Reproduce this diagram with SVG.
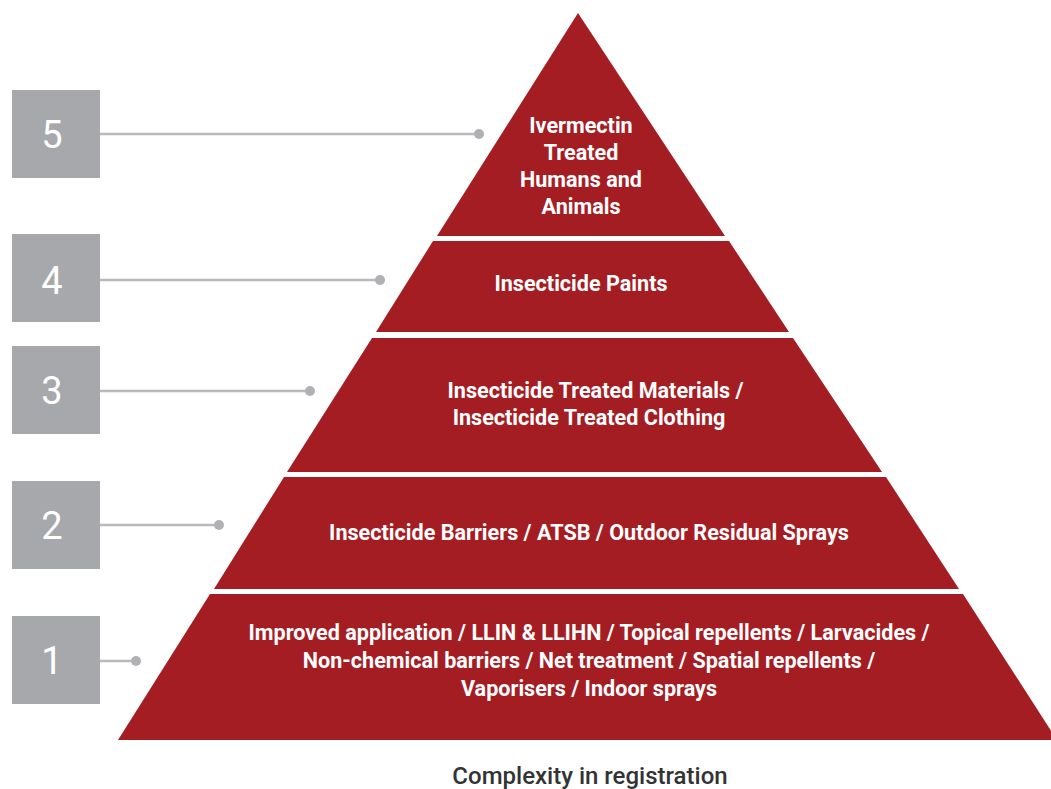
<svg xmlns="http://www.w3.org/2000/svg" width="1051" height="789" viewBox="0 0 1051 789">
<style>
.tier{fill:#a41d23}
.lbl{font-family:Roboto,"Liberation Sans",sans-serif;font-weight:700;font-size:21.6px;fill:#ffffff;text-anchor:middle}
.box{fill:#a7a8ab}
.num{font-family:Roboto,"Liberation Sans",sans-serif;font-weight:400;font-size:38px;fill:#ffffff;text-anchor:middle}
.con{stroke:#b8b9bc;stroke-width:2.5;fill:none}
.dot{fill:#b0b1b4}
.cap{font-family:Roboto,"Liberation Sans",sans-serif;font-weight:500;font-size:24px;fill:#333333;text-anchor:middle}
</style>
<rect width="1051" height="789" fill="#ffffff"/>
<g id="connectors">
<line class="con" x1="82" y1="134" x2="479" y2="134"/><circle class="dot" cx="479" cy="134" r="5"/>
<line class="con" x1="82" y1="280" x2="380" y2="280"/><circle class="dot" cx="380" cy="280" r="5"/>
<line class="con" x1="82" y1="391" x2="310" y2="391"/><circle class="dot" cx="310" cy="391" r="5"/>
<line class="con" x1="82" y1="525" x2="219" y2="525"/><circle class="dot" cx="219" cy="525" r="5"/>
<line class="con" x1="82" y1="661" x2="136" y2="661"/><circle class="dot" cx="136" cy="661" r="5"/>
</g>
<g id="box5"><rect class="box" x="12" y="90" width="88" height="88"/><text class="num" x="52" y="148">5</text></g>
<g id="box4"><rect class="box" x="12" y="234" width="88" height="88"/><text class="num" x="52" y="294">4</text></g>
<g id="box3"><rect class="box" x="12" y="346" width="88" height="88"/><text class="num" x="52" y="404">3</text></g>
<g id="box2"><rect class="box" x="12" y="481" width="88" height="88"/><text class="num" x="52" y="539">2</text></g>
<g id="box1"><rect class="box" x="12" y="616" width="88" height="88"/><text class="num" x="52" y="674">1</text></g>
<g id="tier5">
<polygon class="tier" points="578,13 437,236 725,236"/>
<text class="lbl" x="581" y="133">Ivermectin</text>
<text class="lbl" x="581" y="160">Treated</text>
<text class="lbl" x="581" y="187">Humans and</text>
<text class="lbl" x="581" y="214">Animals</text>
</g>
<g id="tier4">
<polygon class="tier" points="433,241 729,241 789,332 376,332"/>
<text class="lbl" x="581" y="291">Insecticide Paints</text>
</g>
<g id="tier3">
<polygon class="tier" points="372,338 793,338 882,472 287,472"/>
<text class="lbl" x="595.5" y="398">Insecticide Treated Materials /</text>
<text class="lbl" x="589" y="425">Insecticide Treated Clothing</text>
</g>
<g id="tier2">
<polygon class="tier" points="284,477 886,477 959,589 214,589"/>
<text class="lbl" x="589" y="540">Insecticide Barriers / ATSB / Outdoor Residual Sprays</text>
</g>
<g id="tier1">
<polygon class="tier" points="210,594 963,594 1057,740 118,740"/>
<text class="lbl" x="589" y="640">Improved application / LLIN &amp; LLIHN / Topical repellents / Larvacides /</text>
<text class="lbl" x="589" y="668">Non-chemical barriers / Net treatment / Spatial repellents /</text>
<text class="lbl" x="589" y="696">Vaporisers / Indoor sprays</text>
</g>
<text class="cap" x="590" y="784">Complexity in registration</text>
</svg>
